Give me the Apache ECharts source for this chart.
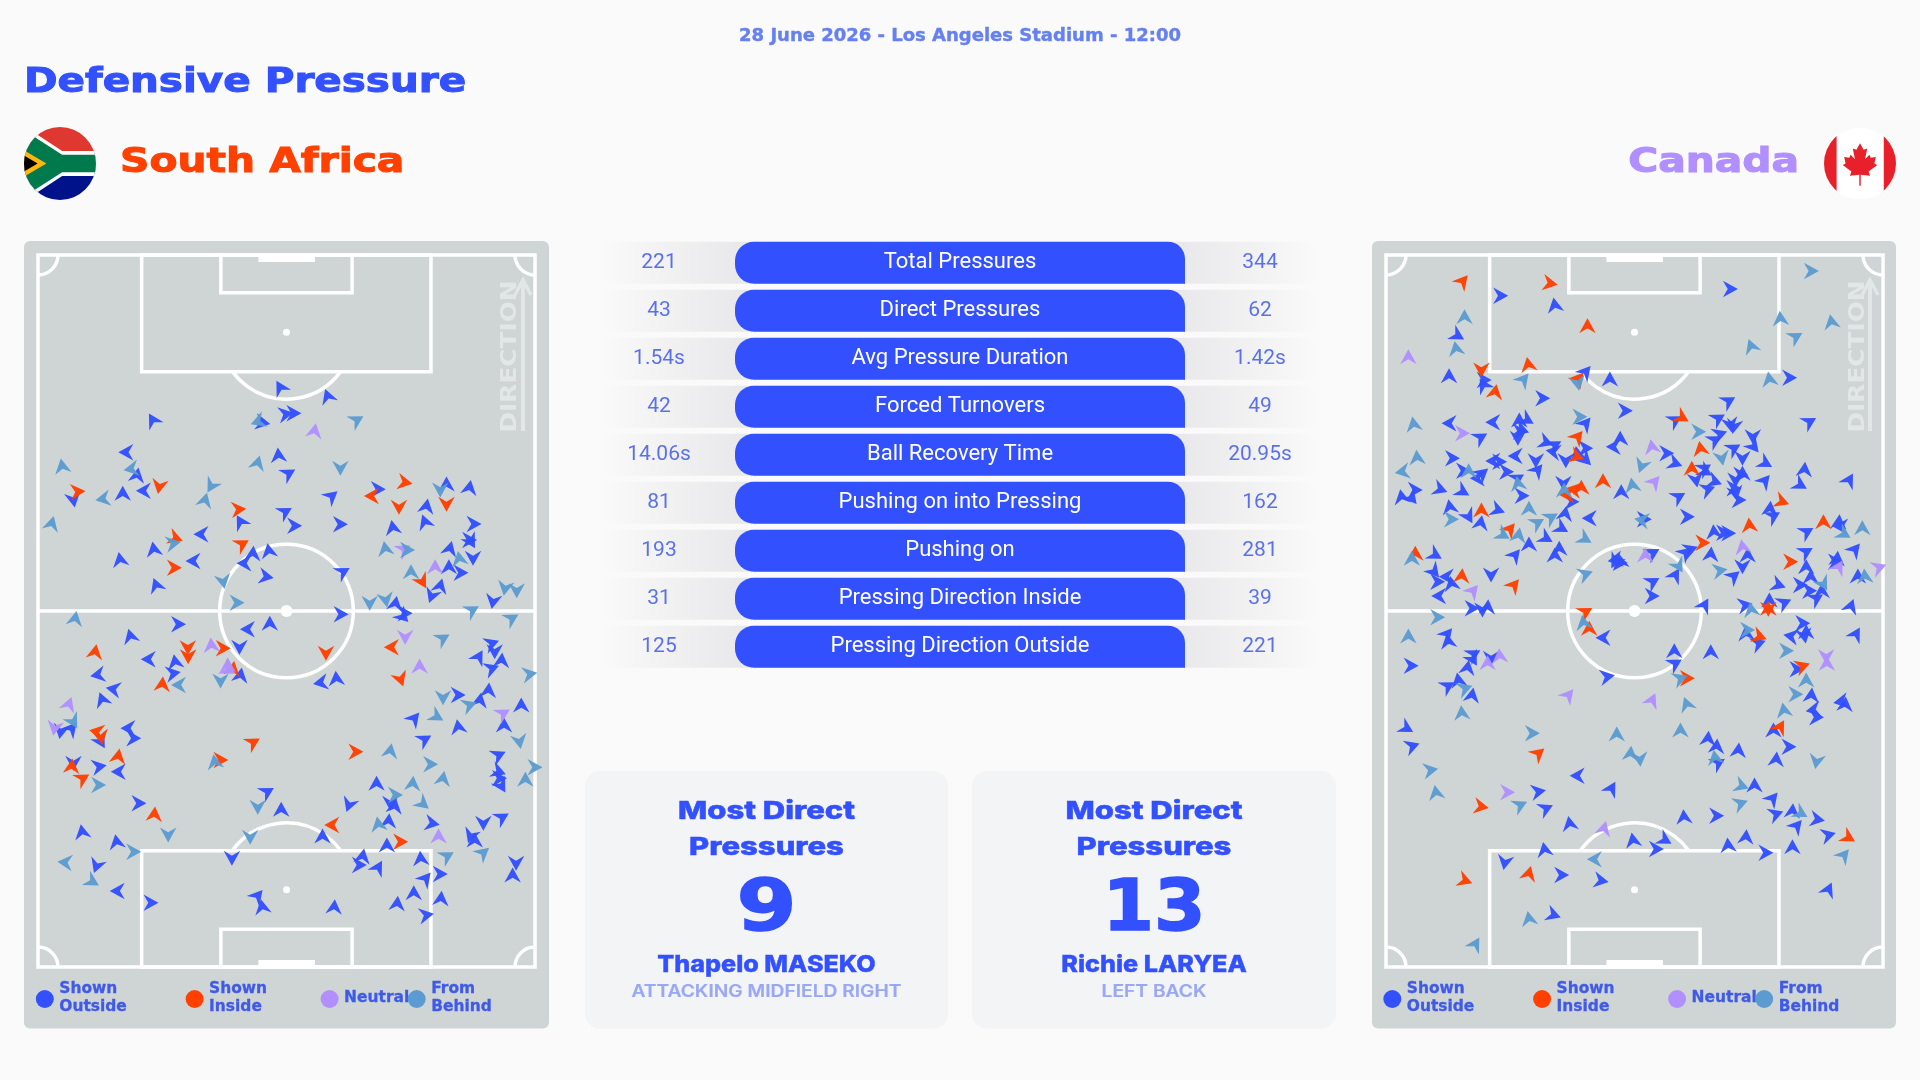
<!DOCTYPE html>
<html><head><meta charset="utf-8">
<script src="https://cdn.jsdelivr.net/npm/echarts@6/dist/echarts.min.js"></script>
<style>html,body{margin:0;padding:0;background:#fafafa}#c{width:1920px;height:1080px}</style>
</head><body><div id="c"></div>
<script>
// Pressure events: [type, x, y, heading in degrees (0 = east, 90 = north)]
// type: 0 Shown Outside, 1 Shown Inside, 2 Neutral, 3 From Behind
const southAfricaHigh = [[0,755,442,120],[0,893,468,110]];
const southAfricaMid = [
[0,385,60,120],[3,690,65,200],[0,705,68,-10],[0,772,42,10],[0,795,40,0],[2,855,92,80],[3,978,60,30],[0,307,157,180],[3,122,198,100],[3,322,207,190],[0,340,225,80],[1,168,275,5],[0,155,300,-80],[3,240,297,190],[0,298,280,90],[0,358,272,180],[1,404,260,-100],[3,555,258,-120],[3,537,300,75],[3,92,370,75],
[1,635,328,5],[0,640,365,120],[0,770,335,30],[0,797,377,0],[0,905,288,40],[0,930,373,0],[0,780,220,30],[0,750,165,95],[3,690,188,75],[3,930,205,-90],[0,1040,268,0],[1,1020,288,180],[1,1118,247,-10],[1,1100,322,-90],[0,1180,318,80],[0,1238,252,90],[3,1220,270,-90],[1,1238,313,-90],[0,1305,262,80],[0,1175,365,110],
[0,1082,382,100],[0,1318,372,0],[0,1305,420,0],[0,1310,425,-60],[3,1060,445,100],[3,1125,450,0],[2,1115,448,30],[0,1248,445,75],[2,1205,500,90],[0,1245,500,90],[3,1275,475,100],[0,1315,475,-90],[0,1280,518,0],[3,1135,515,90],[1,1168,545,-60],[0,1220,557,75],[0,1195,588,-110],[3,1408,565,-100],[3,1442,572,-90],[0,1373,605,-100],
[3,1313,630,30],[3,1428,655,30],[0,525,403,180],[1,452,415,-20],[3,445,430,10],[0,388,447,100],[0,290,478,100],[1,645,432,30],[0,676,460,85],[0,722,452,100],[0,650,490,180],[0,502,483,180],[1,448,503,0],[0,715,530,-10],[0,938,515,30],[0,395,555,110],[3,590,545,-80],[3,630,608,0],[3,1015,610,-90],[3,1062,600,-80],
[0,1090,610,80],[0,1118,640,0],[0,1112,650,-45],[0,932,643,0],[3,160,655,80],[0,460,673,0],[0,660,688,180],[0,725,670,90],[0,320,708,105],[2,1118,712,-90],[3,1228,715,30],[0,1370,730,20],[0,1378,755,-90],[0,1332,770,60],[0,1398,780,85],[0,1370,805,20],[2,555,735,95],[1,487,743,-90],[1,488,770,-90],[1,590,745,0],
[0,637,742,-90],[1,218,755,80],[0,372,778,180],[0,450,785,100],[0,445,820,10],[1,888,760,-90],[1,1078,742,180],[0,225,825,190],[2,1160,798,90],[2,603,795,90],[2,605,810,-30],[1,618,805,80],[0,640,825,80],[0,872,848,190],[0,918,835,95],[1,1105,838,-70],[3,1480,822,10],[1,413,852,85],[3,460,855,180],[3,582,843,-90],
[0,270,867,170],[0,238,898,110],[2,142,912,70],[3,1228,893,-90],[0,1272,885,0],[0,1360,870,85],[0,1335,900,80],[3,1305,915,20],[0,1455,915,90],[2,1403,940,30],[0,1405,975,90],[0,1145,955,50],[3,1210,950,-30],[0,1272,980,100],[3,155,965,-60],[0,150,985,50],[2,100,985,-100],[0,118,995,-100],[0,313,985,180],[1,222,995,170]];
const southAfricaLow = [
[0,330,25,0],[0,235,35,-60],[1,235,22,-80],[1,677,37,30],[1,975,65,0],[3,1075,62,80],[0,1175,28,30],[3,1450,35,-80],[0,1390,75,25],[1,285,78,80],[1,150,108,85],[0,155,100,-90],[0,230,110,10],[0,285,125,180],[1,182,145,30],[3,228,165,0],[3,565,95,100],[1,583,90,0],[3,1192,103,0],[3,1228,145,80],
[3,1140,160,85],[0,1035,160,90],[0,1390,125,-20],[0,1392,145,0],[0,1398,168,-60],[3,1467,148,90],[3,1495,112,0],[3,1090,195,0],[3,1170,222,-40],[0,1075,220,-90],[0,1088,228,80],[0,955,225,-110],[0,718,185,30],[0,345,220,0],[3,690,232,-90],[0,758,238,90],[1,390,252,85],[0,1070,272,85],[3,1040,282,100],[0,1197,280,-10],
[1,905,285,180],[0,1345,280,-90],[0,1400,262,30],[0,1308,318,-110],[0,1320,330,90],[3,430,315,-90],[0,180,305,100],[0,878,318,90],[3,668,322,-90],[2,1215,318,90],[1,1105,335,0],[0,1065,345,90],[0,280,335,100],[3,330,365,0],[3,1240,378,30],[3,1345,368,40],[3,130,397,175],[0,615,385,-90],[0,995,378,80],[0,985,405,0],
[0,1040,412,60],[0,1163,385,95],[0,1440,400,-90],[0,1430,435,90],[0,1220,432,0],[0,1178,445,50],[0,222,408,-110],[3,210,455,-30],[0,282,483,180],[0,1143,488,90],[0,1222,505,85],[0,1095,520,85],[0,380,518,0],[0,690,497,50],[0,703,530,100],[0,912,530,85],[0,1180,555,10]];
const canadaHigh = [
[1,298,153,50],[3,1310,123,0],[1,552,160,-10],[0,1075,177,0],[0,408,197,0],[0,565,225,100],[3,303,260,90],[1,660,287,90],[3,1220,265,95],[3,1368,275,100],[3,1265,320,30],[0,283,317,-30],[3,278,355,100],[2,140,380,90],[3,1135,348,110],[1,352,420,-90],[0,258,437,90],[1,488,403,100],[3,475,448,50],[0,360,450,0],
[0,358,465,120],[1,392,485,80],[0,655,425,50],[1,635,445,50],[3,632,460,-80],[0,725,447,90],[3,1188,447,100],[0,1247,443,0],[0,530,505,0],[0,770,542,0],[0,1070,513,30],[3,155,582,100],[0,258,580,180],[0,385,577,180],[1,935,563,-30],[0,915,570,30],[0,1040,565,30],[0,1075,585,-80],[0,1085,590,-100],[3,983,605,0],
[0,1305,575,30],[0,462,570,90],[0,485,570,-30],[3,638,560,0],[0,655,580,50],[0,465,605,0],[0,470,600,-20],[0,458,625,-90],[2,297,610,0],[0,350,622,30],[1,632,620,50],[0,540,637,-20],[0,565,645,30],[0,560,665,170],[0,755,625,90],[0,735,650,180],[2,847,650,100],[0,1140,620,-90],[0,1030,630,30],[0,1045,612,20],
[1,988,655,100],[0,1143,650,-50],[0,1085,655,30],[0,890,670,0],[0,655,655,0],[1,630,680,-20],[0,655,690,-45],[0,630,670,100],[0,450,678,180],[0,385,693,180],[0,405,695,0],[0,268,685,0],[3,165,682,95],[0,510,692,-90],[0,597,692,-90],[3,1050,685,-80],[0,1110,685,-90],[0,1177,700,-30],[0,915,700,-20],[3,817,708,-110],
[3,122,725,190],[1,963,715,90],[0,1000,715,30],[0,1003,725,-30],[0,1290,718,85],[0,300,722,0],[3,315,722,90],[0,425,725,0],[0,515,720,50],[0,355,730,40],[0,340,745,180],[0,1110,730,90],[0,1105,735,0],[1,705,752,90],[0,457,745,30],[3,458,760,100],[2,855,755,50],[3,790,765,100],[0,1175,752,50],[0,590,760,-90],
[0,1030,755,-20],[0,975,750,-80],[0,1090,750,-90],[0,1278,765,-30],[0,1420,750,60],[0,120,800,100],[0,160,780,0],[0,150,805,-50],[0,233,778,-20],[0,298,785,-30],[0,1085,775,0],[0,1090,790,-80],[0,1010,778,20],[0,758,785,90],[3,592,780,90],[1,600,795,180],[1,620,778,170],[1,642,772,90],[0,925,800,30],[0,1100,810,0],
[0,470,797,0],[0,260,830,100],[1,352,840,90],[0,400,840,-20],[3,490,835,90],[1,1225,815,-20],[0,1190,835,85],[0,615,815,0],[0,595,850,80],[3,555,862,30],[0,665,865,180],[0,825,868,0],[3,817,870,170],[0,950,860,0],[0,1200,858,30],[0,315,860,-60],[0,350,878,80],[3,265,868,0],[1,1130,885,95],[1,1345,875,90],
[0,1390,875,85],[0,1395,890,180],[0,1027,905,95],[0,1055,908,0],[0,1070,910,0],[3,1458,893,90],[0,1297,905,30],[3,1405,912,-30],[3,515,878,30],[0,585,895,-30],[1,435,897,50],[3,415,915,-30],[3,460,915,80],[3,653,927,-30],[0,540,925,-30],[0,490,942,90],[1,995,938,0],[0,450,975,50],[0,578,955,90],[0,565,975,90],
[0,945,968,40],[0,960,958,20],[2,828,975,90],[0,850,968,30],[2,1110,950,100],[0,1125,975,90],[0,1018,972,85],[0,740,990,190],[0,755,993,100],[0,1295,965,30],[0,1437,958,50],[0,1385,985,85],[1,160,970,90],[3,150,985,90],[0,218,975,-30],[1,1250,995,0]];
const canadaLow = [
[0,215,35,-50],[0,225,65,0],[0,250,50,180],[0,265,70,100],[1,295,47,85],[0,380,45,-90],[2,328,92,50],[1,447,75,50],[0,228,108,180],[0,370,140,85],[0,325,145,0],[0,355,150,-90],[3,225,172,0],[3,140,228,90],[0,253,222,50],[0,255,243,100],[0,330,282,30],[0,328,298,-60],[0,380,295,-90],[2,405,287,95],
[2,370,308,90],[0,312,322,80],[0,285,360,100],[0,255,378,30],[3,305,385,20],[0,325,405,80],[3,295,458,95],[0,148,317,0],[3,655,42,20],[0,740,5,-120],[0,755,8,0],[0,850,65,30],[0,848,108,0],[3,925,18,-60],[0,915,45,60],[3,1045,32,10],[0,1085,48,40],[0,1110,20,-90],[0,1295,20,90],[0,1215,75,-20],
[0,1278,75,0],[0,1308,50,90],[3,1345,72,-60],[0,1305,92,0],[0,1340,92,90],[0,1325,115,30],[2,1390,20,60],[0,1380,5,0],[0,1445,48,90],[3,1465,48,95],[2,1507,22,20],[0,1425,138,70],[0,1440,222,60],[0,1118,135,10],[3,1135,148,100],[0,1188,120,90],[1,1185,148,-90],[1,1185,145,90],[0,1232,128,25],[0,1000,135,60],
[1,655,155,30],[3,648,187,100],[1,665,205,90],[0,705,233,180],[0,1285,190,0],[3,1125,210,0],[0,1120,220,95],[1,1160,230,-20],[0,1157,250,20],[0,1250,228,170],[0,1290,228,-80],[0,1295,215,90],[3,1238,272,0],[2,1353,290,-90],[2,1355,310,90],[0,1018,275,90],[0,912,272,90],[0,915,310,30],[1,1285,318,20],[0,1268,328,0],
[0,718,350,10],[3,930,355,20],[1,950,355,0],[3,1295,360,90],[3,1265,403,0],[0,1310,405,85],[0,1395,425,190],[0,1408,432,85],[0,1315,450,190],[0,1325,472,0],[2,605,405,50],[2,848,420,65],[3,948,432,110],[3,1230,450,100],[1,1220,500,60],[0,1200,510,90],[0,135,505,-30],[0,152,558,20],[3,500,520,0],[1,518,580,40],
[3,745,522,90],[3,930,510,90],[0,1010,535,85],[0,1035,558,85],[0,1098,570,85],[0,1245,560,0],[0,1208,597,85],[3,785,580,85],[3,812,598,-85],[3,1030,592,100],[0,1040,608,30],[3,1325,605,-100],[3,205,630,10],[0,630,647,180],[0,730,685,60],[2,428,697,0],[0,518,695,10],[3,220,697,100],[3,1108,678,-20],[0,1145,675,90],
[0,1198,715,50],[3,465,735,25],[0,540,745,25],[1,352,740,-10],[3,1105,730,20],[0,1208,762,20],[0,1255,752,85],[3,1280,760,-30],[0,1328,778,-10],[0,1268,797,50],[0,1035,767,0],[0,940,770,95],[0,608,790,100],[2,708,805,75],[0,792,840,100],[0,885,840,-30],[0,860,867,0],[0,1120,830,85],[0,1360,825,15],[1,1418,833,-30],
[0,1068,855,95],[0,1255,860,90],[0,535,868,100],[0,1178,878,0],[3,680,898,180],[3,1405,885,50],[0,420,908,-100],[1,490,940,75],[0,585,945,0],[0,700,962,-10],[1,305,962,-20],[0,1360,988,65],[3,490,1075,100],[0,562,1065,-20],[3,335,1152,60]];

const typeNames = ['Shown Outside','Shown Inside','Neutral','From Behind'];
const legendLines = [['Shown','Outside'],['Shown','Inside'],['Neutral'],['From','Behind']];

const statNames = ['Total Pressures','Direct Pressures','Avg Pressure Duration','Forced Turnovers','Ball Recovery Time','Pushing on into Pressing','Pushing on','Pressing Direction Inside','Pressing Direction Outside'];
const statsSouthAfrica = ['221','43','1.54s','42','14.06s','81','193','31','125'];
const statsCanada = ['344','62','1.42s','49','20.95s','162','281','39','221'];

const cardValues = ['9','13'];
const cardPlayers = ['Thapelo MASEKO','Richie LARYEA'];
const cardRoles = ['ATTACKING MIDFIELD RIGHT','LEFT BACK'];

const typeColors = ['#3350ff','#ff4000','#b18fff','#5c9bd1'];
const cardBoxes = [[585,363,1.2],[972,364,1.03]];
const BLUE='#3350ff', WIDE='"DejaVu Sans"', NARROW='Roboto', CARD='Inter';
const ARROW='path://M0,-7 L7,5.5 L0,1.5 L-7,5.5 Z';

const southAfricaEvents = southAfricaHigh.map(p=>[p[0],p[1],p[2]+720,p[3]])
  .concat(southAfricaMid.map(p=>[p[0],p[1],p[2]+1200,p[3]]))
  .concat(southAfricaLow.map(p=>[p[0],p[1],p[2]+2190,p[3]]));
const canadaEvents = canadaHigh.map(p=>[p[0],p[1],p[2]+690,p[3]])
  .concat(canadaLow.map(p=>[p[0],p[1],p[2]+1680,p[3]]));

function arrowSeries(events,idx,team){
  return typeNames.map((n,t)=>({
    type:'scatter',name:team+' '+n,xAxisIndex:idx,yAxisIndex:idx,clip:false,z:5,
    symbol:ARROW,symbolSize:[16.5,15],
    itemStyle:{color:typeColors[t],opacity:0.97},
    data:events.filter(e=>e[0]===t).map(e=>({value:[e[1],e[2]],symbolRotate:e[3]-90})),
    silent:true
  }));
}
function pitchSeries(idx,dx){
  return {type:'custom',xAxisIndex:idx,yAxisIndex:idx,coordinateSystem:'cartesian2d',clip:false,z:3,silent:true,
    data:[[0,0]],
    renderItem(params,api){
      const P=(x,y)=>api.coord([x+dx,y]);
      const line={stroke:'#fff',lineWidth:3.5,fill:null};
      const R=(x0,y0,x1,y1,fill)=>{const a=P(x0,y0),b=P(x1,y1);
        return {type:'rect',shape:{x:Math.min(a[0],b[0]),y:Math.min(a[1],b[1]),width:Math.abs(b[0]-a[0]),height:Math.abs(b[1]-a[1])},
          style:fill?{fill:'#fff'}:line};};
      const k=P(1,0)[0]-P(0,0)[0];
      const A=(x,y,r,s,e)=>{const c=P(x,y);return {type:'arc',shape:{cx:c[0],cy:c[1],r:r*k,startAngle:s*Math.PI/180,endAngle:e*Math.PI/180,clockwise:true},style:line};};
      const D=(x,y,r)=>{const c=P(x,y);return {type:'circle',shape:{cx:c[0],cy:c[1],r:r},style:{fill:'#fff'}};};
      const L=(x0,y0,x1,y1)=>{const a=P(x0,y0),b=P(x1,y1);return {type:'line',shape:{x1:a[0],y1:a[1],x2:b[0],y2:b[1]},style:line};};
      return {type:'group',children:[
        R(52,765,1495,2901),
        R(353,765,1193,1115),R(353,2552,1193,2901),
        R(583,765,964,878),R(583,2788,964,2901),
        R(692,765,856,786,true),R(692,2880,856,2901,true),
        L(52,1833,1495,1833),
        A(773.5,1833,194,0,360),
        D(773.5,1833,6),D(773.5,997,3.5),D(773.5,2669,3.5),
        A(773.5,997,194,36,144),A(773.5,2669,194,216,324),
        A(52,765,58,0,90),A(1495,765,58,90,180),A(1495,2901,58,180,270),A(52,2901,58,270,360)
      ]};
    }};
}

const SA_FLAG="data:image/svg+xml,"+encodeURIComponent('<svg xmlns="http://www.w3.org/2000/svg" viewBox="0 0 100 100"><clipPath id="c"><circle cx="50" cy="50" r="50"/></clipPath><g clip-path="url(#c)"><rect width="100" height="50" fill="#de3831"/><rect y="50" width="100" height="50" fill="#00128a"/><polygon points="-10,-8 53,33 100,33 100,67 53,67 -10,108" fill="#fff"/><polygon points="-10,-2 53,38 100,38 100,62 53,62 -10,102" fill="#007a4d"/><polygon points="0,32 31,50 0,68" fill="#ffb612"/><polygon points="0,39 19,50 0,61" fill="#000"/></g></svg>');
const CA_FLAG="data:image/svg+xml,"+encodeURIComponent('<svg xmlns="http://www.w3.org/2000/svg" viewBox="0 0 100 100"><clipPath id="c"><circle cx="50" cy="50" r="50"/></clipPath><g clip-path="url(#c)"><rect width="100" height="100" fill="#fff"/><rect width="17.5" height="100" fill="#e8202a"/><rect x="83" width="17" height="100" fill="#e8202a"/><polygon points="50,22 55,31 60,29 57,44 63,38 65,42 72,41 70,50 74,52 62,61 64,67 51,65.5 51,81 49,81 49,65.5 36,67 38,61 26,52 30,50 28,41 35,42 37,38 43,44 40,29 45,31" fill="#e8202a"/></g></svg>');

const T=(text,x,y,size,color,o={})=>({type:'text',x,y,rotation:o.rotation||0,scaleX:o.sx||1,scaleY:o.sy||1,
  style:{text,fill:color,font:`${o.weight||'bold'} ${size}px ${o.family||WIDE}`,textAlign:o.align||'left',textVerticalAlign:'middle',
    stroke:o.bold?color:null,lineWidth:o.bold||0}});

const graphics=[];
// panels
[[24,525],[1372,524]].forEach(p=>graphics.push({type:'rect',shape:{x:p[0],y:241,width:p[1],height:787.5,r:6},style:{fill:'#cfd5d5'}}));
cardBoxes.forEach(c=>graphics.push({type:'rect',shape:{x:c[0],y:771,width:c[1],height:257.5,r:15},style:{fill:'#f3f4f6'}}));
// headers
graphics.push(T('28 June 2026 - Los Angeles Stadium - 12:00',960,36,18,'#6580f0',{align:'center',sx:1.0,bold:0.4}));
graphics.push(T('Defensive Pressure',24,83,34,BLUE,{sx:1.19,bold:1}));
graphics.push(T('South Africa',120,163.5,34,'#ff4000',{sx:1.2,bold:1}));
graphics.push(T('Canada',1799,163.5,34,'#b18fff',{align:'right',sx:1.2,bold:1}));
graphics.push({type:'image',style:{image:SA_FLAG,x:24,y:127,width:72,height:73}});
graphics.push({type:'image',style:{image:CA_FLAG,x:1824,y:127.5,width:72,height:72}});
// direction markers
[[510.5,523],[1859,1870]].forEach(d=>{
  graphics.push(T('DIRECTION',d[0],356.5,21,'#e2e6e6',{align:'center',rotation:Math.PI/2,sx:1.18}));
  graphics.push({type:'polyline',shape:{points:[[d[1],431],[d[1],280]]},style:{stroke:'#e2e6e6',lineWidth:4,fill:null}});
  graphics.push({type:'polyline',shape:{points:[[d[1]-8,295],[d[1],280],[d[1]+8,295]]},style:{stroke:'#e2e6e6',lineWidth:3.5,fill:null}});
});
// legends
[0,1347.5].forEach(dx=>{
  [44.8,194.6,329.6,416.7].forEach((cx,i)=>{
    graphics.push({type:'circle',shape:{cx:cx+dx,cy:999,r:9},style:{fill:typeColors[i]}});
    const lines=legendLines[i],tx=cx+dx+14.5;
    if(lines.length===1) graphics.push(T(lines[0],tx,998,15,'#3f5ae8',{sx:1.03,bold:0.3}));
    else lines.forEach((l,j)=>graphics.push(T(l,tx,989+j*18,15,'#3f5ae8',{sx:1.03,bold:0.3})));
  });
});
// cards text
cardBoxes.forEach((c,i)=>{
  const cx=c[0]+c[1]/2;
  graphics.push(T('Most Direct',cx,811,25,BLUE,{align:'center',family:CARD,weight:'800',sx:1.24,bold:0.5}));
  graphics.push(T('Pressures',cx,847,25,BLUE,{align:'center',family:CARD,weight:'800',sx:1.24,bold:0.5}));
  graphics.push(T(cardValues[i],cx,911,72,BLUE,{align:'center',sx:c[2],bold:1.5}));
  graphics.push(T(cardPlayers[i],cx,965,23.5,BLUE,{align:'center',family:CARD,weight:'800',sx:1.07,bold:0.4}));
  graphics.push(T(cardRoles[i],cx,992,17,'#99a8f4',{align:'center',family:CARD,weight:'600',sx:1.13,bold:0.2}));
});

const hidden=(type,extra)=>Object.assign({type,show:false},extra);
const rowAxis=i=>({type:'category',gridIndex:i,data:statNames,inverse:true,show:false});

const option={
  animation:false,backgroundColor:'#fafafa',graphic:{elements:graphics},
  grid:[
    {left:38,top:255,width:497,height:712},
    {left:1386,top:255,width:497,height:712},
    {left:600,top:238.7,width:720,height:432},
    {left:735,top:238.7,width:450,height:432}],
  xAxis:[
    hidden('value',{gridIndex:0,min:52,max:1495}),
    hidden('value',{gridIndex:1,min:75,max:1518}),
    hidden('value',{gridIndex:2,min:0,max:720}),
    hidden('value',{gridIndex:3,min:0,max:1})],
  yAxis:[
    hidden('value',{gridIndex:0,min:765,max:2901,inverse:true}),
    hidden('value',{gridIndex:1,min:765,max:2901,inverse:true}),
    rowAxis(2),rowAxis(3)],
  series:[
    pitchSeries(0,0),pitchSeries(1,23),
    ...arrowSeries(southAfricaEvents,0,'South Africa'),
    ...arrowSeries(canadaEvents,1,'Canada'),
    {type:'bar',xAxisIndex:2,yAxisIndex:2,barWidth:42,z:2,silent:true,
     data:statNames.map(()=>720),
     itemStyle:{color:{type:'linear',x:0,y:0,x2:1,y2:0,colorStops:[
       {offset:0,color:'rgba(232,232,234,0)'},{offset:0.19,color:'#e9e9eb'},{offset:0.81,color:'#e9e9eb'},{offset:1,color:'rgba(232,232,234,0)'}]}}},
    {type:'bar',xAxisIndex:3,yAxisIndex:3,barWidth:42,z:3,silent:true,
     data:statNames.map(()=>1),
     itemStyle:{color:BLUE,borderRadius:[19,17,0,19]},
     label:{show:true,position:'inside',formatter:p=>p.name,color:'#fff',fontFamily:NARROW,fontSize:22,fontWeight:400}},
    ...[[statsSouthAfrica,59],[statsCanada,660]].map(([vals,x])=>({
      type:'scatter',xAxisIndex:2,yAxisIndex:2,z:4,symbolSize:1,silent:true,itemStyle:{color:'transparent'},
      data:vals.map((v,i)=>({value:[x,statNames[i]],label:{show:true,formatter:v}})),
      label:{show:true,position:'inside',color:'#3350e8',fontFamily:NARROW,fontSize:21,fontWeight:400}}))
  ]
};
const chart=echarts.init(document.getElementById('c'),null,{renderer:'canvas'});
chart.setOption(option);
</script></body></html>
